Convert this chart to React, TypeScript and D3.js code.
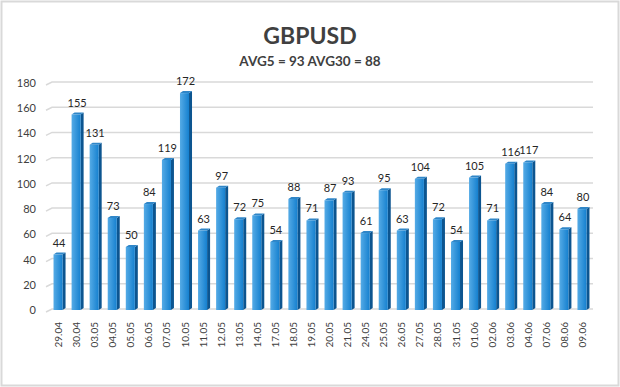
import React, { useEffect, useRef } from 'react';
import * as d3 from 'd3';

const dates = ['29.04', '30.04', '03.05', '04.05', '05.05', '06.05', '07.05', '10.05', '11.05', '12.05',
  '13.05', '14.05', '17.05', '18.05', '19.05', '20.05', '21.05', '24.05', '25.05', '26.05',
  '27.05', '28.05', '31.05', '01.06', '02.06', '03.06', '04.06', '07.06', '08.06', '09.06'];
const values = [44, 155, 131, 73, 50, 84, 119, 172, 63, 97, 72, 75, 54, 88, 71, 87, 93, 61, 95, 63,
  104, 72, 54, 105, 71, 116, 117, 84, 64, 80];
const yTicks = [0, 20, 40, 60, 80, 100, 120, 140, 160, 180];
const title = 'GBPUSD';
const subtitle = 'AVG5 = 93 AVG30 = 88';

const W = 620;
const H = 387;

export default function App() {
  const ref = useRef<SVGSVGElement>(null);

  useEffect(() => {
    const svg = d3.select(ref.current);
    svg.selectAll('*').remove();

    const font = 'Lato, "Open Sans", sans-serif';
    const left = 49, right = 591, top = 83, bottom = 310;
    const depth = 3;

    const x = d3.scaleBand().domain(dates).range([left, right]).paddingInner(0.5).paddingOuter(0.25);
    const y = d3.scaleLinear().domain([0, 180]).range([bottom, top]);

    const defs = svg.append('defs');
    const grad = defs.append('linearGradient').attr('id', 'barGrad').attr('x1', 0).attr('x2', 1).attr('y1', 0).attr('y2', 0);
    grad.append('stop').attr('offset', '0%').attr('stop-color', '#55abe6');
    grad.append('stop').attr('offset', '100%').attr('stop-color', '#1580cf');

    svg.append('rect').attr('x', 1.5).attr('y', 1.5).attr('width', W - 3).attr('height', H - 3)
      .attr('fill', '#fff').attr('stroke', '#d9d9d9').attr('stroke-width', 2);

    svg.append('text').attr('x', 310).attr('y', 44).attr('text-anchor', 'middle')
      .attr('font-family', font).attr('font-weight', 'bold').attr('font-size', 23).attr('fill', '#404040')
      .text(title);
    svg.append('text').attr('x', 310).attr('y', 66).attr('text-anchor', 'middle')
      .attr('font-family', font).attr('font-weight', 'bold').attr('font-size', 13.5).attr('fill', '#404040')
      .text(subtitle);

    // gridlines with slanted 3D floor edge
    svg.selectAll('.grid').data(yTicks).enter().append('path')
      .attr('d', d => `M${left - 3},${y(d) + 2} L${left + depth},${y(d) - 1} L${right + 2},${y(d) - 1}`)
      .attr('fill', 'none').attr('stroke', '#d9d9d9').attr('stroke-width', 1.5);

    svg.selectAll('.ylab').data(yTicks).enter().append('text')
      .attr('x', 36).attr('y', d => y(d) + 4).attr('text-anchor', 'end')
      .attr('font-family', font).attr('font-size', 11).attr('fill', '#404040')
      .text(d => d);

    const bw = x.bandwidth();
    const g = svg.selectAll('.bar').data(values).enter().append('g');
    // side face
    g.append('path')
      .attr('d', (d, i) => {
        const x0 = x(dates[i])! + bw;
        return `M${x0},${y(d)} L${x0 + depth},${y(d) - 2} L${x0 + depth},${bottom - 2} L${x0},${bottom} Z`;
      })
      .attr('fill', '#0c5590');
    // top face
    g.append('path')
      .attr('d', (d, i) => {
        const x0 = x(dates[i])!;
        return `M${x0},${y(d)} L${x0 + depth},${y(d) - 2} L${x0 + bw + depth},${y(d) - 2} L${x0 + bw},${y(d)} Z`;
      })
      .attr('fill', '#2f86c8');
    g.append('rect')
      .attr('x', (d, i) => x(dates[i])!)
      .attr('y', d => y(d))
      .attr('width', bw)
      .attr('height', d => bottom - y(d))
      .attr('fill', 'url(#barGrad)');

    svg.selectAll('.vlab').data(values).enter().append('text')
      .attr('x', (d, i) => x(dates[i])! + bw / 2 + 1)
      .attr('y', d => y(d) - 8)
      .attr('text-anchor', 'middle')
      .attr('font-family', font).attr('font-size', 11).attr('fill', '#262626')
      .text(d => d);

    svg.selectAll('.xlab').data(dates).enter().append('text')
      .attr('transform', (d) => `translate(${x(d)! + bw / 2 + 4},${322}) rotate(-90)`)
      .attr('text-anchor', 'end')
      .attr('font-family', font).attr('font-size', 10).attr('fill', '#404040')
      .text(d => d);
  }, []);

  return (
    <svg ref={ref} width={W} height={H} style={{ position: 'absolute', left: 0, top: 0 }} />
  );
}
